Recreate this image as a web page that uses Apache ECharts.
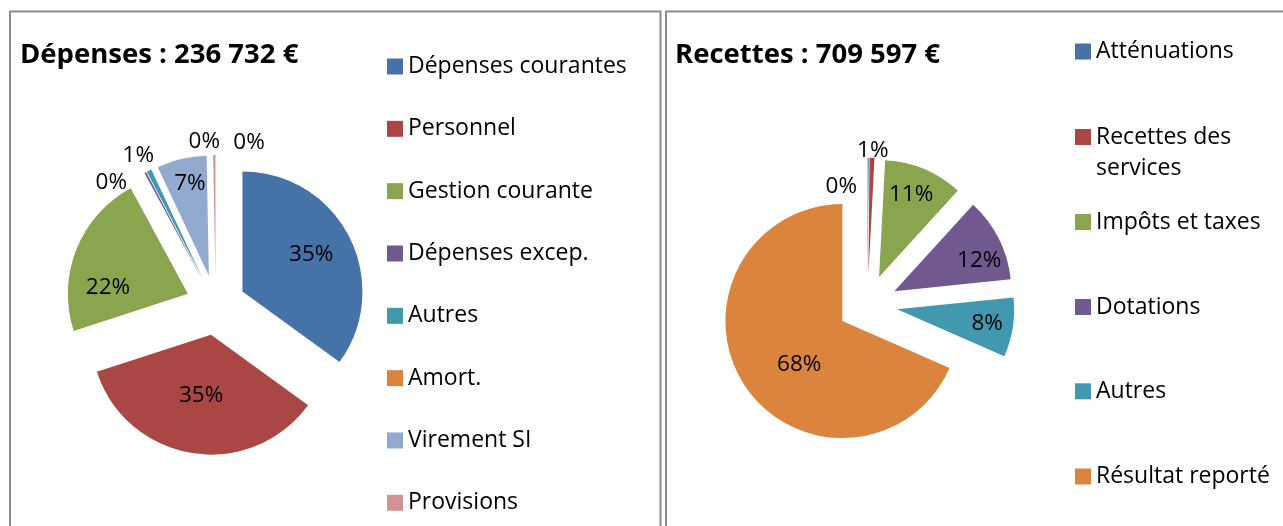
<!DOCTYPE html>
<html>
<head>
<meta charset="utf-8">
<script src="https://cdn.jsdelivr.net/npm/echarts@6/dist/echarts.min.js"></script>
<style>
html,body{margin:0;padding:0;background:#fff;}
#chart{width:1283px;height:526px;}
</style>
</head>
<body>
<div id="chart"></div>
<script>
// ---- data ----
const leftTitle = 'Dépenses : 236 732 €';
const leftCats = ['Dépenses courantes', 'Personnel', 'Gestion courante', 'Dépenses excep.', 'Autres', 'Amort.', 'Virement SI', 'Provisions'];
const leftValues = [35.0, 35.0, 22.1, 0.25, 0.65, 0, 6.7, 0.3]; // share in %

const rightTitle = 'Recettes : 709 597 €';
const rightCats = ['Atténuations', 'Recettes des services', 'Impôts et taxes', 'Dotations', 'Autres', 'Résultat reporté'];
const rightValues = [0.15, 0.68, 10.94, 11.6, 8.2, 68.43]; // share in %

// ---- styles ----
const palette = ['#4572A7', '#AA4643', '#89A54E', '#71588F', '#4198AF', '#DB843D', '#93A9CF', '#D19392'];
const FONT = 'Open Sans';
const leftShift = [[12.7, -9.5], [0, -3.1], [-21.3, 15.7], [-60.8, -41.4], [-36.1, -67.2], [28.2, -81.2], [-4.6, -31.9], [34.2, -70.5]];
const rightShift = [[-26.6, -28.2], [2.5, -64.5], [8.5, -27], [30, -4.2], [29.3, 3.7], [8.3, 8.2]];

function pieData(cats, vals) {
  return cats.map((n, i) => ({ name: n, value: vals[i], selected: true, itemStyle: { color: palette[i] } }));
}
function pieSeries(cats, vals, center, radius, shift) {
  return {
    type: 'pie',
    center: center,
    radius: [0, radius],
    startAngle: 90,
    clockwise: true,
    selectedMode: 'multiple',
    selectedOffset: 30,
    animation: false,
    avoidLabelOverlap: false,
    emphasis: { scale: false },
    label: {
      show: true,
      position: 'inside',
      formatter: p => Math.round(p.percent) + '%',
      color: '#000',
      fontFamily: FONT,
      fontSize: 22.5
    },
    labelLine: { show: false },
    labelLayout: p => ({ dx: shift[p.dataIndex][0], dy: shift[p.dataIndex][1] + 1.5 }),
    data: pieData(cats, vals)
  };
}

const LH = 30;
const legends = [];
const leftLegendY0 = 66.5, leftLegendStep = 62.33;
leftCats.forEach((n, i) => {
  legends.push({
    data: [n], orient: 'vertical', left: 387, top: leftLegendY0 + i * leftLegendStep - LH / 2,
    padding: 0, icon: 'rect', itemWidth: 16, itemHeight: 16, selectedMode: false,
    textStyle: { fontFamily: FONT, fontSize: 23, color: '#000', lineHeight: LH }
  });
});
const rightLegendY = [51.5, 137, 222, 307, 391.3, 476.5];
rightCats.forEach((n, i) => {
  const twoLine = n === 'Recettes des services';
  legends.push({
    data: [n], orient: 'vertical', left: 1075, top: rightLegendY[i] - (twoLine ? 1.5 * 31 : LH / 2),
    padding: 0, icon: 'rect', itemWidth: 16, itemHeight: 16, selectedMode: false,
    formatter: twoLine ? () => ' \nRecettes des\nservices' : '{name}',
    textStyle: { fontFamily: FONT, fontSize: 23, color: '#000', lineHeight: twoLine ? 31 : LH }
  });
});

const chart = echarts.init(document.getElementById('chart'), null, { renderer: 'canvas' });
chart.setOption({
  animation: false,
  backgroundColor: '#fff',
  title: [
    { text: leftTitle, left: 20, top: 39, padding: 0, textStyle: { fontFamily: FONT, fontSize: 27.5, fontWeight: 'bold', color: '#000', lineHeight: 32 } },
    { text: rightTitle, left: 675, top: 39, padding: 0, textStyle: { fontFamily: FONT, fontSize: 27.5, fontWeight: 'bold', color: '#000', lineHeight: 32 } }
  ],
  legend: legends,
  graphic: [
    { type: 'rect', silent: true, z: -1, shape: { x: 10, y: 11.5, width: 650.5, height: 600 }, style: { fill: null, stroke: '#8c8c8c', lineWidth: 2 } },
    { type: 'rect', silent: true, z: -1, shape: { x: 666, y: 11.5, width: 700, height: 600 }, style: { fill: null, stroke: '#8c8c8c', lineWidth: 2 } }
  ],
  series: [
    pieSeries(leftCats, leftValues, [215.7, 305], 120, leftShift),
    pieSeries(rightCats, rightValues, [867.5, 304.7], 117, rightShift)
  ]
});
</script>
</body>
</html>
